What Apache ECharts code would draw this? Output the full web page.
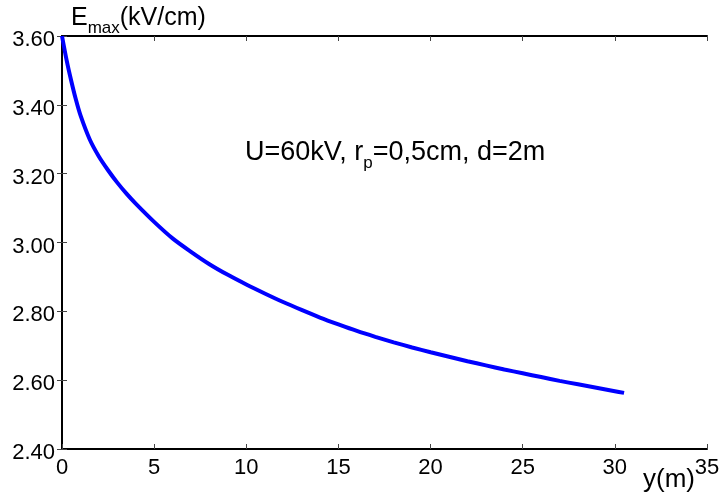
<!DOCTYPE html>
<html>
<head>
<meta charset="utf-8">
<script src="https://cdn.jsdelivr.net/npm/echarts@6/dist/echarts.min.js"></script>
<style>
html,body{margin:0;padding:0;background:#fff;}
#c{width:723px;height:494px;}
</style>
</head>
<body>
<div id="c"></div>
<script>
// Data
var xValues = [0, 0.25, 0.5, 0.75, 1, 1.5, 2, 2.5, 3, 3.5, 4, 5, 6, 7, 8, 9, 10, 11, 12, 13, 14, 15, 16, 17, 18, 19, 20, 21, 22, 23, 24, 25, 26, 27, 28, 29, 30, 30.5];
var yValues = [3.600, 3.530, 3.470, 3.416, 3.370, 3.300, 3.250, 3.210, 3.174, 3.142, 3.113, 3.060, 3.012, 2.973, 2.937, 2.906, 2.878, 2.852, 2.827, 2.804, 2.782, 2.762, 2.743, 2.726, 2.710, 2.695, 2.681, 2.668, 2.655, 2.643, 2.631, 2.620, 2.609, 2.598, 2.588, 2.578, 2.568, 2.563];
var xTicks = [0, 5, 10, 15, 20, 25, 30, 35];
var yTicks = [2.40, 2.60, 2.80, 3.00, 3.20, 3.40, 3.60];

var pts = xValues.map(function (x, i) { return [x, yValues[i]]; });
var FONT = '"Liberation Sans", Arial, sans-serif';

var chart = echarts.init(document.getElementById('c'), null, {renderer: 'canvas'});
var lineAxis = {show: true, lineStyle: {color: '#000', width: 2}};
var tickInside = {show: true, inside: true, length: 5, lineStyle: {color: '#444', width: 1}};

chart.setOption({
  animation: false,
  backgroundColor: '#fff',
  grid: {left: 62, right: 16, top: 36, bottom: 45, containLabel: false},
  xAxis: [{
    type: 'value', min: xTicks[0], max: xTicks[xTicks.length - 1], interval: 5,
    position: 'bottom',
    axisLine: lineAxis, axisTick: tickInside, splitLine: {show: false},
    axisLabel: {show: true, color: '#000', fontFamily: FONT, fontSize: 22, margin: 8}
  }, {
    type: 'value', min: xTicks[0], max: xTicks[xTicks.length - 1], interval: 5,
    position: 'top',
    axisLine: lineAxis, axisTick: tickInside, splitLine: {show: false},
    axisLabel: {show: false}
  }],
  yAxis: [{
    type: 'value', min: yTicks[0], max: yTicks[yTicks.length - 1], interval: 0.2,
    position: 'left',
    axisLine: lineAxis, axisTick: tickInside, splitLine: {show: false},
    axisLabel: {show: true, color: '#000', fontFamily: FONT, fontSize: 22, margin: 7,
      verticalAlign: 'top', lineHeight: 8,
      formatter: function (v) { return v.toFixed(2); }}
  }, {
    type: 'value', min: yTicks[0], max: yTicks[yTicks.length - 1], interval: 0.2,
    position: 'right',
    axisLine: lineAxis, axisTick: tickInside, splitLine: {show: false},
    axisLabel: {show: false}
  }],
  series: [{
    type: 'line', xAxisIndex: 0, yAxisIndex: 0,
    data: pts, showSymbol: false, smooth: 0.3,
    lineStyle: {color: '#0000ff', width: 4}
  }],
  graphic: [{
    type: 'text', left: 71, top: 6,
    style: {
      text: '{a|E}{b|max}{a|(kV/cm)}',
      rich: {
        a: {fontFamily: FONT, fontSize: 25, lineHeight: 26, fill: '#000', verticalAlign: 'bottom'},
        b: {fontFamily: FONT, fontSize: 17, lineHeight: 18, fill: '#000', verticalAlign: 'bottom', padding: [0, 0, -6, 0]}
      }
    }
  }, {
    type: 'text', left: 245, top: 139,
    style: {
      text: '{a|U=60kV, r}{b|p}{a|=0,5cm, d=2m}',
      rich: {
        a: {fontFamily: FONT, fontSize: 27, lineHeight: 28, fill: '#000', verticalAlign: 'bottom'},
        b: {fontFamily: FONT, fontSize: 17, lineHeight: 18, fill: '#000', verticalAlign: 'bottom', padding: [0, 0, -6, 0]}
      }
    }
  }, {
    type: 'text', left: 643, top: 467,
    style: {text: 'y(m)', fontFamily: FONT, fontSize: 26, fill: '#000'}
  }]
});
</script>
</body>
</html>
